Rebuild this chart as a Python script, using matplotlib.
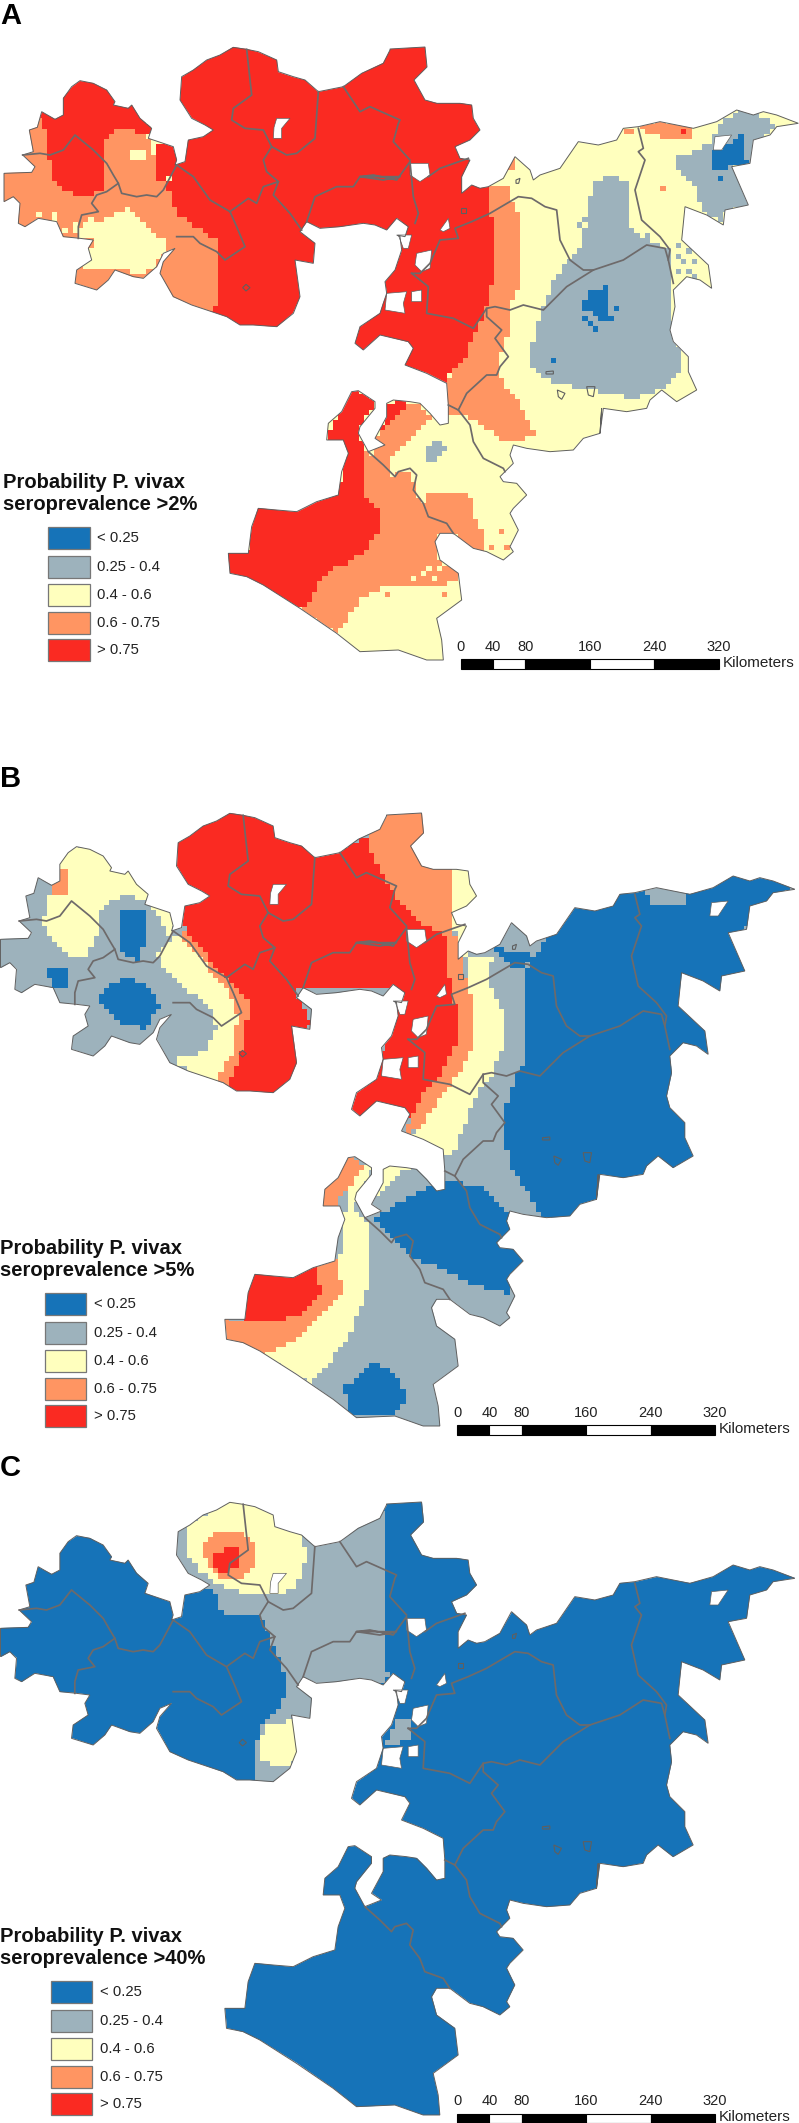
import numpy as np
import matplotlib
matplotlib.use("Agg")
import matplotlib.pyplot as plt
from matplotlib.colors import ListedColormap, BoundaryNorm
from matplotlib.patches import PathPatch, Rectangle, Polygon
from matplotlib.path import Path

plt.rcParams["font.family"] = ["Liberation Sans", "DejaVu Sans"]

# classes
BLUE, GREY, YELLOW, ORANGE, RED = 0, 1, 2, 3, 4
class_colors = ["#1673b8", "#9db2bc", "#ffffbe", "#ff9562", "#fa2a22"]
class_labels = ["< 0.25", "0.25 - 0.4", "0.4 - 0.6", "0.6 - 0.75", "> 0.75"]
scale_km = [0, 40, 80, 160, 240, 320]
panel_letters = ["A", "B", "C"]
panel_titles = [">2%", ">5%", ">40%"]

NW = (0, 40)
NE = (340, 100)
SO = (220, 370)


def at(crop, points):
    return [(crop[0] + x / 3, crop[1] + y / 3) for x, y in points]


outline = (
    at(NW, [(12, 400), (95, 397), (105, 380), (68, 345), (100, 335), (88, 270), (112, 262), (125, 215), (165, 238),
            (190, 225), (190, 175), (215, 140), (240, 122), (280, 130), (320, 150), (345, 185), (340, 195), (385, 205),
            (395, 195), (420, 235), (455, 265), (445, 295), (520, 320), (530, 360), (525, 375), (555, 365), (565, 300),
            (610, 290), (640, 270), (615, 255), (575, 235), (540, 180), (545, 110), (580, 90), (620, 60), (660, 45),
            (700, 22), (740, 28), (775, 35), (830, 60), (835, 95), (880, 110), (915, 120), (955, 155), (1030, 140),
            (1085, 100), (1150, 70), (1170, 30)])
    + [(390, 49), (425, 47), (427, 67), (414, 80)]
    + at(NE, [(255, 0), (290, 10), (360, 10), (395, 15), (400, 55), (420, 90), (390, 120), (345, 140), (360, 175),
              (390, 180), (365, 230), (365, 280), (395, 255), (420, 265), (445, 260), (490, 235), (525, 170), (570, 210),
              (580, 240), (600, 225), (660, 205), (715, 125), (775, 135), (830, 120), (850, 85), (895, 80), (960, 65),
              (1060, 85), (1130, 65), (1190, 30), (1240, 45), (1270, 35), (1310, 45), (1375, 70), (1310, 80),
              (1290, 105), (1240, 120), (1230, 190), (1175, 200), (1225, 315), (1155, 330), (1150, 375), (1100, 345),
              (1035, 320), (1025, 420), (1105, 495), (1115, 565), (1080, 540), (1040, 530), (1000, 570), (1005, 620),
              (990, 690), (1000, 725), (1045, 770), (1045, 815), (1070, 870), (1010, 905), (965, 870), (930, 900),
              (920, 925), (860, 935), (790, 925), (780, 1000)])
    + at(SO, [(1145, 115), (1140, 190), (1090, 205), (1060, 240), (990, 245), (920, 235), (880, 225), (870, 255),
              (880, 280), (840, 320), (850, 335), (890, 340), (920, 375), (880, 415), (870, 430), (895, 480), (870, 530),
              (880, 545), (850, 570), (800, 545), (760, 535), (700, 490), (660, 490), (645, 515), (660, 570), (715, 610),
              (725, 690), (650, 745), (665, 810), (670, 870), (620, 870), (535, 840), (420, 845), (350, 790), (240, 715),
              (130, 645), (80, 620), (30, 610), (25, 550), (85, 550), (95, 470), (115, 415), (170, 420), (230, 425),
              (290, 395), (355, 375), (365, 305), (385, 250), (370, 210), (320, 210), (325, 160), (365, 125), (395, 65),
              (415, 62), (465, 95), (465, 115), (420, 170), (415, 190), (445, 245), (495, 225), (465, 205), (500, 140),
              (500, 100), (520, 90), (570, 95), (600, 100), (630, 130), (660, 165), (685, 160), (685, 105)])
    + at(NE, [(320, 850), (260, 820), (195, 795), (220, 745), (205, 725), (120, 705), (70, 750), (45, 730), (60, 680),
              (120, 640), (130, 610), (140, 580), (135, 545), (165, 510), (185, 450), (180, 410), (170, 405), (195, 410),
              (205, 380), (170, 355), (140, 390), (105, 375), (70, 370), (0, 380)])
    + at(NW, [(960, 565), (920, 545), (900, 575), (945, 610), (940, 670), (885, 660), (900, 770), (880, 820), (830, 860),
              (760, 855), (720, 855), (680, 830), (620, 810), (575, 795), (520, 770), (480, 700), (490, 665), (525, 625),
              (490, 640), (470, 680), (430, 715), (400, 710), (345, 690), (325, 720), (290, 750), (225, 730), (230, 690),
              (275, 660), (265, 625), (280, 600), (240, 595), (190, 590), (170, 545), (115, 535), (75, 560), (55, 550),
              (60, 490), (40, 470), (12, 485)])
)

lakes = [
    at(NW, [(830, 235), (870, 235), (845, 265), (845, 295), (820, 295), (822, 262)]),
    at(NE, [(210, 190), (265, 190), (270, 225), (240, 245), (210, 225)]),
    at(NE, [(1125, 110), (1175, 105), (1145, 150), (1120, 150)]),
    at(NE, [(300, 390), (325, 355), (330, 385), (310, 395)]),
    at(NE, [(230, 460), (275, 450), (270, 505), (245, 515), (225, 495)]),
    at(NE, [(215, 575), (245, 570), (245, 605), (215, 605)]),
    at(NE, [(140, 580), (200, 575), (190, 610), (195, 640), (135, 630)]),
    at(NE, [(175, 405), (215, 405), (205, 445), (190, 445)]),
]

ponds = [
    at(NW, [(728, 743), (738, 733), (750, 743), (738, 753)]),
    at(NE, [(528, 240), (540, 235), (536, 250), (528, 250)]),
    at(NE, [(652, 870), (675, 880), (665, 898), (655, 890)]),
    at(NE, [(740, 860), (765, 860), (760, 890), (745, 885)]),
    at(NE, [(618, 815), (640, 813), (640, 822), (618, 822)]),
    at(NE, [(364, 325), (378, 325), (378, 340), (364, 340)]),
]

district_lines = [
    at(NW, [(68, 345), (120, 340), (150, 345), (190, 330), (225, 285), (280, 330), (320, 370), (340, 405), (355, 430),
            (320, 455), (290, 465), (275, 490), (295, 515), (245, 525), (235, 560), (235, 595)]),
    at(NW, [(355, 430), (365, 460), (410, 470), (440, 465), (470, 470), (490, 450), (530, 375), (580, 410), (630, 480),
            (690, 515), (710, 560), (735, 620), (675, 660), (650, 635), (600, 610), (580, 590), (530, 590)]),
    at(NW, [(690, 515), (745, 475), (770, 490), (790, 440), (835, 425), (820, 465), (870, 520), (905, 570)]),
    at(NW, [(740, 28), (755, 165), (700, 205), (695, 240), (735, 265), (790, 270), (815, 320), (860, 345), (890, 340),
            (945, 295), (955, 155)]),
    at(NW, [(815, 320), (790, 360), (800, 395), (835, 425)]),
    at(NW, [(1030, 140), (1080, 215), (1110, 200), (1200, 240)]) + at(NE, [(175, 70), (160, 125), (210, 180)]),
    at(NW, [(920, 545), (945, 470), (1010, 440), (1060, 440), (1080, 410), (1150, 420), (1200, 410)])
    + at(NE, [(60, 230), (100, 225), (170, 240), (210, 185), (220, 290), (235, 340), (225, 370)]),
    at(NE, [(265, 230), (300, 205), (385, 175)]),
    at(NE, [(215, 520), (265, 560), (260, 640), (340, 655), (400, 685), (440, 625), (465, 620), (510, 630), (550, 615),
            (610, 630), (680, 560), (760, 510), (850, 480), (920, 435), (975, 445), (985, 480), (1000, 550)]),
    at(NE, [(760, 510), (730, 510), (690, 480), (660, 420), (650, 330), (615, 320), (575, 295), (535, 290), (450, 340),
            (395, 365), (345, 385), (355, 415), (300, 420), (270, 490), (240, 520), (215, 520)]),
    at(NE, [(895, 85), (910, 145), (895, 155), (915, 180), (885, 270), (905, 360), (960, 410), (990, 450), (985, 480)]),
    at(NE, [(440, 625), (440, 650), (485, 690), (465, 715), (505, 770), (480, 800), (470, 825), (440, 825), (380, 880),
            (355, 930)]) + at(SO, [(685, 105)]),
    at(SO, [(715, 120), (750, 165), (760, 215), (790, 265), (850, 295), (855, 305)]),
    at(SO, [(445, 245), (490, 285), (525, 320), (535, 305), (570, 295), (590, 315), (580, 360), (610, 400), (625, 440),
            (680, 460), (700, 490)]),
]

# zones are painted in order, later ones on top
zones_a = [
    (ORANGE, at(NW, [(0, 200), (400, 200), (500, 430), (650, 590), (655, 830), (470, 830), (220, 770), (0, 500)])),
    (RED, at(NW, [(100, 210), (130, 110), (340, 110), (430, 200), (455, 280), (345, 265), (310, 310), (310, 450), (270, 470),
                  (205, 460), (165, 430), (145, 340), (130, 260)])),
    (RED, at(NW, [(470, 305), (530, 310), (535, 380), (490, 430), (470, 420)])),
    (YELLOW, at(NW, [(397, 330), (432, 330), (432, 365), (397, 365)])),
    (YELLOW, at(NW, [(240, 560), (340, 530), (385, 510), (460, 580), (500, 600), (490, 640), (460, 690), (420, 700),
                     (340, 690), (270, 690), (250, 680), (280, 600), (240, 590)])),
    (RED, at(NW, [(495, 430), (535, 380), (530, 0), (1200, 0), (1200, 500), (1000, 620), (960, 900), (575, 830), (650, 800),
                  (650, 600), (530, 520)])),
    (RED, at(NE, [(0, -200), (430, -200), (445, 250), (440, 320), (462, 380), (470, 480), (455, 550), (440, 620), (410, 690),
                  (395, 720), (385, 760), (350, 790), (315, 850), (190, 850), (0, 700), (0, 300)])),
    (ORANGE, at(NE, [(440, 265), (500, 255), (515, 305), (545, 350), (545, 450), (540, 550), (515, 610), (505, 700), (485, 760),
                     (480, 820), (510, 880), (555, 930), (575, 990), (550, 1025), (490, 1020), (420, 975), (370, 940),
                     (330, 945), (318, 850), (350, 790), (385, 760), (395, 720), (410, 690), (440, 620), (455, 550),
                     (470, 480), (462, 380), (440, 320)])),
    (ORANGE, at(NE, [(490, 200), (520, 165), (535, 180), (510, 220), (495, 215)])),
    (GREY, at(NE, [(765, 240), (830, 225), (860, 250), (870, 310), (860, 360), (920, 420), (985, 450), (990, 550), (1005, 720),
                   (1030, 770), (1010, 830), (960, 870), (880, 895), (800, 880), (700, 860), (620, 840), (575, 800),
                   (580, 700), (610, 620), (625, 595), (645, 530), (680, 490), (720, 440), (745, 350), (750, 290)])),
    (GREY, at(NE, [(1130, 80), (1210, 20), (1310, 70), (1280, 110), (1240, 125), (1235, 190), (1180, 200), (1235, 315),
                   (1155, 335), (1155, 380), (1085, 330), (1070, 270), (995, 180), (1080, 145), (1120, 130)])),
    (BLUE, at(NE, [(740, 570), (810, 560), (810, 650), (825, 665), (790, 665), (730, 625)])),
    (BLUE, at(NE, [(1125, 150), (1180, 125), (1210, 100), (1212, 170), (1228, 195), (1175, 195), (1160, 215), (1125, 205)])),
    (ORANGE, at(NE, [(900, 75), (965, 60), (1060, 80), (1055, 120), (985, 125), (950, 105), (910, 100)])),
    (ORANGE, at(NE, [(845, 85), (885, 85), (885, 100), (845, 100)])),
    (RED, at(NE, [(1016, 88), (1040, 88), (1040, 101), (1016, 101)])),
    (RED, at(SO, [(395, 55), (470, 95), (420, 170), (415, 195), (435, 240), (435, 375), (460, 400), (485, 430), (470, 490),
                  (440, 540), (390, 575), (350, 590), (300, 640), (265, 700), (240, 720), (20, 615), (15, 545), (80, 545),
                  (105, 405), (290, 385), (355, 365), (370, 300), (380, 240), (315, 210)])),
    (RED, at(SO, [(495, 100), (570, 85), (530, 140), (485, 185)])),
    (ORANGE, at(SO, [(435, 240), (490, 280), (520, 320), (545, 300), (575, 310), (590, 370), (620, 420), (700, 490), (650, 490),
                     (650, 570), (720, 600), (700, 640), (600, 650), (500, 650), (420, 690), (350, 795), (240, 720),
                     (265, 700), (300, 640), (350, 590), (390, 575), (440, 540), (470, 490), (485, 430), (460, 400),
                     (435, 375)])),
    (ORANGE, at(SO, [(470, 205), (530, 140), (570, 95), (625, 120), (630, 155), (590, 180), (550, 230), (520, 250), (510, 280),
                     (530, 295), (490, 290), (465, 250)])),
    (ORANGE, at(SO, [(625, 375), (720, 365), (760, 390), (765, 440), (785, 500), (790, 555), (760, 540), (690, 485), (625, 430)])),
    (GREY, at(SO, [(630, 210), (665, 210), (680, 240), (650, 275), (615, 265)])),
]

specks_a = [
    (YELLOW, at(NW, [(122, 516), (158, 516), (165, 540), (195, 565), (220, 560), (225, 575), (280, 540), (330, 545), (350, 530), (378, 505)])),
    (GREY, at(NE, [(730, 360), (745, 340), (720, 375), (915, 410), (895, 410), (1010, 430), (1050, 460), (1010, 465), (1030, 485),
                   (1060, 485), (1015, 510), (1045, 510), (1070, 530)])),
    (ORANGE, at(NE, [(962, 265), (575, 1000)])),
    (BLUE, at(NE, [(1145, 228), (735, 650), (745, 675), (770, 688), (830, 625), (637, 785)])),
    (YELLOW, at(SO, [(575, 620), (605, 615), (620, 590), (665, 590), (650, 630)])),
    (ORANGE, at(SO, [(670, 680), (500, 670), (840, 480), (790, 480), (770, 470), (775, 515), (790, 540), (815, 530), (865, 530)])),
]


def from_b(points):
    return [(x / 1.962, 740 + y / 2.24) for x, y in points]


def from_c(points):
    return [(x / 1.962, 1440 + y / 2.296) for x, y in points]


zones_b = [
    (YELLOW, from_b([(85, 395), (100, 340), (125, 230), (215, 250), (295, 345), (345, 400), (335, 445), (300, 375), (260, 345),
                     (215, 360), (190, 395), (190, 440), (170, 485), (130, 480), (100, 450), (85, 410)])),
    (ORANGE, from_b([(95, 325), (125, 275), (140, 340), (110, 345)])),
    (BLUE, from_b([(238, 385), (285, 385), (290, 440), (270, 495), (235, 475), (235, 430)])),
    (BLUE, from_b([(88, 512), (130, 512), (135, 555), (105, 560)])),
    (BLUE, from_b([(195, 570), (240, 530), (290, 550), (318, 600), (280, 645), (240, 635), (200, 600)])),
    (YELLOW, from_b([(340, 440), (370, 450), (430, 530), (480, 590), (470, 690), (450, 740), (430, 770), (380, 750), (340, 715),
                     (400, 700), (425, 650), (420, 610), (380, 570), (320, 510), (310, 480)])),
    (ORANGE, from_b([(350, 430), (365, 430), (440, 530), (490, 590), (475, 700), (455, 750), (445, 780), (425, 760), (445, 720),
                     (462, 690), (465, 620), (450, 560), (400, 500), (365, 460)])),
    (RED, from_b([(335, 280), (335, 140), (620, 140), (620, 250), (660, 250), (720, 215), (750, 300), (790, 370), (840, 420),
                  (880, 440), (880, 520), (895, 600), (895, 680), (870, 740), (850, 770), (830, 800), (800, 850), (680, 850),
                  (680, 800), (750, 700), (780, 560), (580, 560), (615, 640), (585, 650), (590, 780), (510, 810), (445, 780),
                  (455, 750), (475, 700), (490, 590), (440, 530), (365, 430), (355, 370)])),
    (ORANGE, from_b([(785, 890), (830, 790), (850, 770), (870, 740), (895, 680), (895, 600), (880, 520), (880, 440), (840, 420),
                     (790, 370), (750, 300), (720, 225), (760, 150), (840, 150), (840, 210), (815, 240), (840, 280), (885, 280),
                     (885, 400), (900, 480), (920, 560), (930, 600), (925, 690), (900, 750), (870, 790), (830, 860)])),
    (YELLOW, from_b([(885, 280), (945, 280), (945, 350), (915, 400), (925, 450), (915, 490), (885, 400)])),
    (YELLOW, from_b([(915, 490), (965, 490), (960, 540), (985, 610), (990, 680), (960, 760), (930, 800), (890, 930), (840, 920),
                     (805, 885), (830, 860), (870, 790), (900, 750), (925, 690), (930, 600), (920, 560)])),
    (BLUE, from_b([(1035, 510), (1100, 390), (1210, 330), (1350, 330), (1440, 290), (1575, 310), (1490, 380), (1450, 430),
                   (1480, 520), (1430, 575), (1400, 715), (1320, 725), (1380, 940), (1300, 970), (1180, 1050), (1090, 1080),
                   (1060, 1060), (1000, 950), (985, 860), (1010, 750), (1030, 720), (1035, 600)])),
    (GREY, from_b([(1250, 325), (1350, 325), (1350, 368), (1280, 365)])),
    (BLUE, from_b([(970, 465), (1040, 480), (1035, 505), (1000, 505)])),
    (BLUE, from_b([(735, 1075), (790, 1030), (880, 985), (940, 1000), (1000, 1060), (1000, 1100), (1030, 1160), (995, 1240),
                   (940, 1225), (880, 1190), (810, 1160), (770, 1120)])),
    (YELLOW, from_b([(690, 960), (735, 955), (690, 1050), (720, 1080), (725, 1220), (680, 1350), (640, 1400), (610, 1445),
                     (520, 1380), (570, 1350), (640, 1280), (665, 1180)])),
    (ORANGE, from_b([(690, 920), (710, 960), (660, 1040), (620, 1055), (635, 1000)])),
    (ORANGE, from_b([(620, 1170), (665, 1165), (670, 1240), (640, 1280), (570, 1350), (520, 1380), (435, 1350), (435, 1295),
                     (520, 1305), (590, 1290), (630, 1240)])),
    (RED, from_b([(475, 1195), (620, 1175), (630, 1240), (590, 1290), (520, 1305), (475, 1300)])),
    (YELLOW, from_b([(750, 950), (810, 950), (770, 990), (735, 1030)])),
    (BLUE, from_b([(675, 1450), (730, 1395), (775, 1415), (800, 1470), (770, 1515), (690, 1515)])),
]

zones_c = [
    (GREY, from_c([(510, 395), (500, 370), (620, 230), (680, 210), (750, 160), (760, 160), (760, 530), (770, 530), (730, 575),
                   (650, 565), (590, 565), (560, 540), (540, 480)])),
    (GREY, from_c([(560, 540), (625, 580), (620, 640), (590, 640), (590, 720), (560, 795), (497, 795), (497, 720), (510, 660),
                   (555, 610)])),
    (YELLOW, from_c([(520, 660), (585, 640), (590, 730), (550, 755), (515, 735), (505, 700)])),
    (GREY, from_c([(330, 200), (460, 120), (620, 200), (635, 300), (585, 375), (510, 400), (440, 400), (420, 350), (335, 290)])),
    (YELLOW, from_c([(365, 195), (470, 125), (540, 165), (595, 220), (600, 280), (575, 345), (515, 360), (470, 350), (420, 325),
                     (390, 300), (365, 260)])),
    (ORANGE, from_c([(405, 225), (440, 205), (490, 220), (505, 265), (490, 310), (440, 320), (410, 290), (395, 260)])),
    (RED, from_c([(417, 255), (465, 248), (465, 290), (437, 305), (417, 290)])),
    (GREY, from_c([(750, 705), (780, 645), (810, 645), (805, 690), (790, 690), (770, 705)])),
]

panels = [
    {"dx": 0, "dy": 0, "base": YELLOW, "zones": zones_a, "specks": specks_a,
     "legend_dx": 0, "legend_dy": 0, "title_x": 3, "bar_dy": 0},
    {"dx": -3.5, "dy": 766, "base": GREY, "zones": zones_b, "specks": [],
     "legend_dx": -3.5, "legend_dy": 766, "title_x": 0, "bar_dy": 766},
    {"dx": -3.5, "dy": 1455, "base": BLUE, "zones": zones_c, "specks": [],
     "legend_dx": 2.5, "legend_dy": 1454, "title_x": 0, "bar_dy": 1454.5},
]

letter_baseline = [24.5, 787, 1476]


def shift(points, dx, dy):
    pts = np.array(points, dtype=float)
    return pts + [dx, dy]


def draw_map(ax, panel):
    dx, dy = panel["dx"], panel["dy"]
    shape = shift(outline, dx, dy)
    clip = PathPatch(Path(np.vstack([shape, shape[0]]), closed=True), facecolor="none",
                     edgecolor="#5f5f5f", linewidth=0.7, zorder=3)
    ax.add_patch(clip)

    # blocky raster like the original grid
    cell = 5.2
    xs = np.arange(0, 805, cell)
    ys = np.arange(dy + 30, min(dy + 680, 2125), cell)
    cx, cy = np.meshgrid(xs[:-1] + cell / 2, ys[:-1] + cell / 2)
    grid_pts = np.column_stack([cx.ravel(), cy.ravel()])
    grid = np.full(len(grid_pts), panel["base"])
    for cls, poly in panel["zones"]:
        grid[Path(np.array(poly)).contains_points(grid_pts)] = cls
    grid = grid.reshape(cx.shape)
    for cls, pts in panel["specks"]:
        for x, y in pts:
            grid[int((y - ys[0]) / cell), int(x / cell)] = cls
    cmap = ListedColormap(class_colors)
    norm = BoundaryNorm(np.arange(-0.5, 5.5), cmap.N)
    mesh = ax.pcolormesh(xs, ys, grid, cmap=cmap, norm=norm, zorder=1)
    mesh.set_clip_path(clip)

    for lake in lakes:
        ax.add_patch(Polygon(shift(lake, dx, dy), facecolor="white", edgecolor="#5f5f5f", linewidth=0.5, zorder=2))
    for pond in ponds:
        ax.add_patch(Polygon(shift(pond, dx, dy), facecolor="none", edgecolor="#5f5f5f", linewidth=0.8, zorder=4))
    for line in district_lines:
        xy = shift(line, dx, dy)
        ax.plot(xy[:, 0], xy[:, 1], color="#6e6a6a", linewidth=1.25, zorder=4)


def draw_legend(ax, panel, title):
    dx, dy = panel["legend_dx"], panel["legend_dy"]
    title_x = panel["title_x"]
    ax.text(title_x, dy + 482, "Probability P. vivax", fontsize=14.5, fontweight="bold", va="center", color="#111111")
    ax.text(title_x, dy + 505, "seroprevalence " + title, fontsize=14.5, fontweight="bold", va="center", color="#111111")
    tops = [527, 556, 584, 612, 639]
    for top, color, label in zip(tops, class_colors, class_labels):
        ax.add_patch(Rectangle((48 + dx, top + dy), 41.5, 21.5, facecolor=color, edgecolor="#777777", linewidth=0.9))
        ax.text(97 + dx, top + dy + 11, label, fontsize=10.7, va="center", color="#222222")


def draw_scalebar(ax, panel):
    x0 = 460.7 + panel["dx"]
    y0 = 659.3 + panel["bar_dy"]
    km_px = 0.806
    for i in range(len(scale_km) - 1):
        left = x0 + scale_km[i] * km_px
        width = (scale_km[i + 1] - scale_km[i]) * km_px
        ax.add_patch(Rectangle((left, y0), width, 9.2, facecolor="black" if i % 2 == 0 else "white",
                               edgecolor="black", linewidth=0.8))
    for km in scale_km:
        ax.text(x0 + km * km_px, y0 - 12.5, str(km), fontsize=10.5, ha="center", va="center", color="#222222")
    ax.text(x0 + 262, y0 + 3.5, "Kilometers", fontsize=11, va="center", color="#222222")


fig = plt.figure(figsize=(7.99, 21.23), dpi=100)
ax = fig.add_axes([0, 0, 1, 1])
ax.set_xlim(0, 799)
ax.set_ylim(2123, 0)
ax.axis("off")

for i, panel in enumerate(panels):
    draw_map(ax, panel)
    draw_legend(ax, panel, panel_titles[i])
    draw_scalebar(ax, panel)
    ax.text(0, letter_baseline[i], panel_letters[i], fontsize=21, fontweight="bold", va="baseline", color="black")

fig.savefig("out.png", dpi=100)
